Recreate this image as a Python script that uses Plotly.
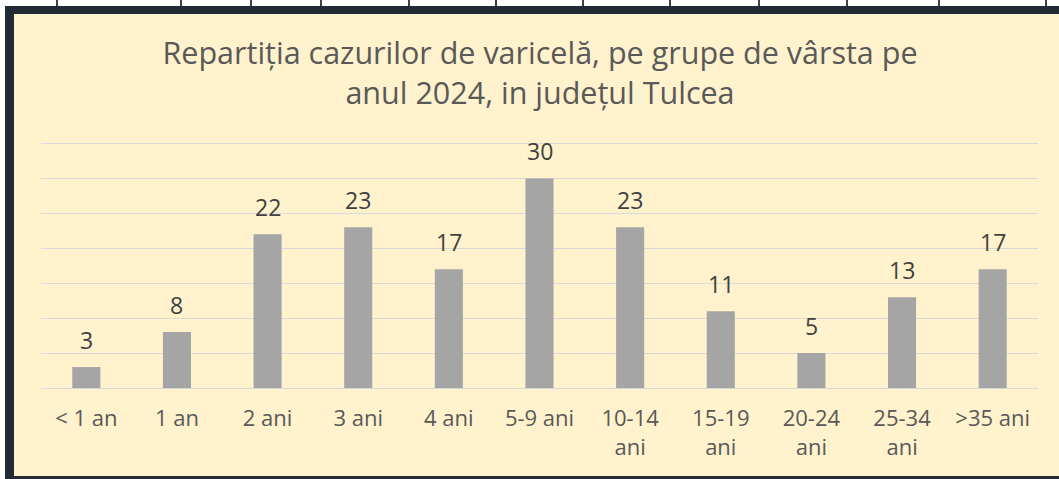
import plotly.graph_objects as go

categories = ["< 1 an", "1 an", "2 ani", "3 ani", "4 ani", "5-9 ani", "10-14<br>ani",
              "15-19<br>ani", "20-24<br>ani", "25-34<br>ani", ">35 ani"]
values = [3, 8, 22, 23, 17, 30, 23, 11, 5, 13, 17]
gridvals = [5, 10, 15, 20, 25, 30, 35]
title_text = "Repartiția cazurilor de varicelă, pe grupe de vârsta pe<br>anul 2024, in județul Tulcea"
table_line_x = [57, 181, 251, 321, 409, 496, 583, 670, 759, 847, 939, 1046]

W, H = 1059, 479
def px(x): return x / W
def py(y): return 1 - y / H

FONT = "Open Sans, Lato, sans-serif"

fig = go.Figure(go.Bar(
    x=categories, y=values, marker_color="#A5A5A5", marker_line_width=0,
    hoverinfo="x+y",
))

annotations = [dict(x=c, y=v, xref="x", yref="y", text=str(v), showarrow=False,
                    yanchor="bottom", yshift=9,
                    font=dict(family=FONT, size=23, color="#404040"))
               for c, v in zip(categories, values)]

shapes = []
# white strip at top with table lines
shapes.append(dict(type="rect", xref="paper", yref="paper", x0=0, x1=1, y0=py(6), y1=1,
                   fillcolor="white", line_width=0, layer="below"))
for lx in table_line_x:
    shapes.append(dict(type="line", xref="paper", yref="paper", x0=px(lx), x1=px(lx),
                       y0=py(6), y1=1, line=dict(color="black", width=1.5)))
# dark frame
frame = "#222A35"
shapes.append(dict(type="rect", xref="paper", yref="paper", x0=px(5), x1=1, y0=py(14), y1=py(6),
                   fillcolor=frame, line_width=0))
shapes.append(dict(type="rect", xref="paper", yref="paper", x0=px(5), x1=px(14), y0=0, y1=py(6),
                   fillcolor=frame, line_width=0))
shapes.append(dict(type="rect", xref="paper", yref="paper", x0=px(5), x1=1, y0=0, y1=py(476),
                   fillcolor=frame, line_width=0))
shapes.append(dict(type="rect", xref="paper", yref="paper", x0=0, x1=px(5), y0=0, y1=py(6),
                   fillcolor="white", line_width=0, layer="below"))

fig.update_layout(
    width=W, height=H,
    margin=dict(l=0, r=0, t=0, b=0),
    paper_bgcolor="#FFF2CC", plot_bgcolor="rgba(0,0,0,0)",
    showlegend=False,
    bargap=0.69,
    title=dict(text=title_text, x=px(540), xanchor="center", y=py(64), yanchor="middle",
               font=dict(family=FONT, size=30.5, color="#595959")),
    xaxis=dict(domain=[px(41), px(1038)], showline=False, ticks="", showgrid=False,
               ticklabelstandoff=15,
               tickfont=dict(family=FONT, size=22, color="#595959"), fixedrange=True),
    yaxis=dict(domain=[py(388), py(140)], range=[0, 35.5], tickvals=gridvals,
               showticklabels=False,
               showgrid=True, gridcolor="#D9D9D9", gridwidth=1, zeroline=True,
               zerolinecolor="#D9D9D9", zerolinewidth=1, ticks="", fixedrange=True),
    annotations=annotations,
    shapes=shapes,
)

fig.write_html("out.html", config={"displayModeBar": False},
               post_script="document.body.style.margin='0';document.body.style.overflow='hidden';")
